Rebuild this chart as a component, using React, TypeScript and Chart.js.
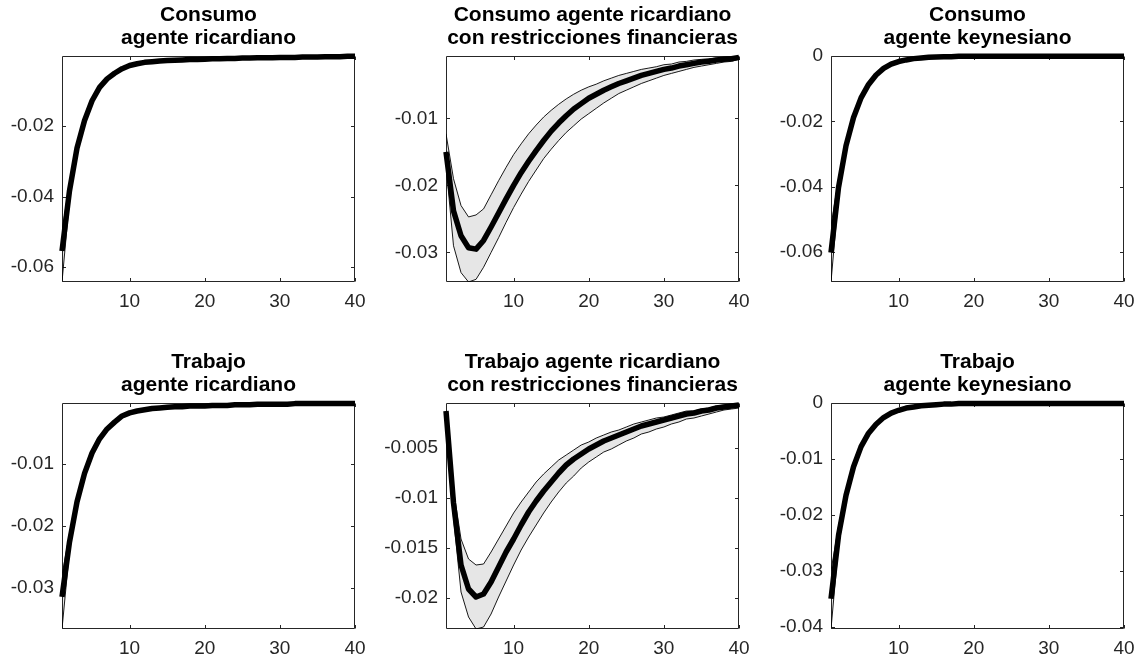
import React, { useEffect, useRef } from 'react';
import { Chart, registerables } from 'chart.js';

Chart.register(...registerables);

const FONT = "'Liberation Sans', Arial, Helvetica, sans-serif";

// ---------- data ----------
const periods = [1, 2, 3, 4, 5, 6, 7, 8, 9, 10, 11, 12, 13, 14, 15, 16, 17, 18, 19, 20,
  21, 22, 23, 24, 25, 26, 27, 28, 29, 30, 31, 32, 33, 34, 35, 36, 37, 38, 39, 40];
const xTicks = [10, 20, 30, 40];

// Consumo agente ricardiano
const consRicMean = [-0.0554, -0.0383, -0.0262, -0.0184, -0.0128, -0.0090, -0.0066, -0.0050, -0.0037, -0.0028,
  -0.0023, -0.0019, -0.0017, -0.0015, -0.0014, -0.0013, -0.0012, -0.0011, -0.0011, -0.0010,
  -0.0009, -0.0009, -0.0008, -0.0008, -0.0007, -0.0007, -0.0006, -0.0006, -0.0006, -0.0005,
  -0.0005, -0.0005, -0.0004, -0.0004, -0.0004, -0.0003, -0.0003, -0.0003, -0.0002, -0.0002];
const consRicUpper = [-0.0500, -0.0360, -0.0250, -0.0177, -0.0124, -0.0087, -0.0063, -0.0047, -0.0035, -0.0026,
  -0.0021, -0.0018, -0.0016, -0.0014, -0.0013, -0.0012, -0.0011, -0.0010, -0.0010, -0.0009,
  -0.0008, -0.0008, -0.0007, -0.0007, -0.0006, -0.0006, -0.0005, -0.0005, -0.0005, -0.0004,
  -0.0004, -0.0004, -0.0003, -0.0003, -0.0003, -0.0002, -0.0002, -0.0002, -0.0001, -0.0001];
const consRicLower = [-0.0642, -0.0410, -0.0276, -0.0192, -0.0133, -0.0094, -0.0069, -0.0053, -0.0039, -0.0030,
  -0.0025, -0.0020, -0.0018, -0.0016, -0.0015, -0.0014, -0.0013, -0.0012, -0.0012, -0.0011,
  -0.0010, -0.0010, -0.0009, -0.0009, -0.0008, -0.0008, -0.0007, -0.0007, -0.0007, -0.0006,
  -0.0006, -0.0006, -0.0005, -0.0005, -0.0005, -0.0004, -0.0004, -0.0004, -0.0003, -0.0003];

// Consumo agente ricardiano con restricciones financieras
const consRestMean = [-0.0150, -0.0238, -0.0275, -0.0293, -0.0295, -0.0282, -0.0262, -0.0241, -0.0220, -0.0200,
  -0.0181, -0.0164, -0.0148, -0.0133, -0.0119, -0.0107, -0.0096, -0.0086, -0.0078, -0.0070,
  -0.0064, -0.0058, -0.0053, -0.0048, -0.0044, -0.0040, -0.0036, -0.0033, -0.0030, -0.0027,
  -0.0025, -0.0022, -0.0020, -0.0018, -0.0016, -0.0015, -0.0013, -0.0012, -0.0011, -0.0009];
const consRestUpper = [-0.0123, -0.0190, -0.0230, -0.0247, -0.0244, -0.0235, -0.0214, -0.0193, -0.0173, -0.0154,
  -0.0138, -0.0123, -0.0110, -0.0098, -0.0088, -0.0079, -0.0071, -0.0064, -0.0058, -0.0053,
  -0.0049, -0.0044, -0.0040, -0.0036, -0.0033, -0.0030, -0.0027, -0.0025, -0.0023, -0.0020,
  -0.0019, -0.0016, -0.0015, -0.0013, -0.0012, -0.0011, -0.0010, -0.0009, -0.0008, -0.0007];
const consRestLower = [-0.0170, -0.0290, -0.0330, -0.0344, -0.0340, -0.0322, -0.0300, -0.0278, -0.0255, -0.0233,
  -0.0213, -0.0194, -0.0177, -0.0160, -0.0146, -0.0133, -0.0121, -0.0111, -0.0101, -0.0093,
  -0.0085, -0.0077, -0.0070, -0.0063, -0.0058, -0.0053, -0.0048, -0.0044, -0.0040, -0.0036,
  -0.0033, -0.0030, -0.0027, -0.0024, -0.0022, -0.0020, -0.0018, -0.0016, -0.0015, -0.0012];

// Consumo agente keynesiano
const consKeyMean = [-0.0601, -0.0402, -0.0274, -0.0188, -0.0128, -0.0087, -0.0058, -0.0038, -0.0025, -0.0017,
  -0.0012, -0.0008, -0.0006, -0.0004, -0.0003, -0.0002, -0.0002, -0.0001, -0.0001, -0.0001,
  -0.0001, -0.0001, -0.0001, -0.0001, -0.0001, -0.0001, -0.0001, -0.0001, -0.0001, -0.0001,
  -0.0001, -0.0001, -0.0001, -0.0001, -0.0001, -0.0001, -0.0001, -0.0001, -0.0001, -0.0001];
const consKeyUpper = [-0.0520, -0.0375, -0.0262, -0.0181, -0.0123, -0.0084, -0.0056, -0.0036, -0.0024, -0.0016,
  -0.0011, -0.0007, -0.0005, -0.0003, -0.0002, -0.0001, -0.0001, 0, 0, 0,
  0, 0, 0, 0, 0, 0, 0, 0, 0, 0,
  0, 0, 0, 0, 0, 0, 0, 0, 0, 0];
const consKeyLower = [-0.0691, -0.0430, -0.0287, -0.0195, -0.0133, -0.0091, -0.0061, -0.0040, -0.0027, -0.0018,
  -0.0013, -0.0009, -0.0007, -0.0005, -0.0004, -0.0003, -0.0003, -0.0002, -0.0002, -0.0002,
  -0.0002, -0.0002, -0.0002, -0.0002, -0.0002, -0.0002, -0.0002, -0.0002, -0.0002, -0.0002,
  -0.0002, -0.0002, -0.0002, -0.0002, -0.0002, -0.0002, -0.0002, -0.0002, -0.0002, -0.0002];

// Trabajo agente ricardiano
const trabRicMean = [-0.0315, -0.0226, -0.0161, -0.0115, -0.0082, -0.0059, -0.0043, -0.0032, -0.0022, -0.0017,
  -0.0014, -0.0012, -0.0010, -0.0009, -0.0008, -0.0007, -0.0007, -0.0006, -0.0006, -0.0006,
  -0.0005, -0.0005, -0.0005, -0.0004, -0.0004, -0.0004, -0.0003, -0.0003, -0.0003, -0.0003,
  -0.0003, -0.0002, -0.0002, -0.0002, -0.0002, -0.0002, -0.0002, -0.0002, -0.0002, -0.0002];
const trabRicUpper = [-0.0280, -0.0212, -0.0154, -0.0111, -0.0079, -0.0057, -0.0041, -0.0030, -0.0021, -0.0016,
  -0.0013, -0.0011, -0.0009, -0.0008, -0.0007, -0.0006, -0.0006, -0.0005, -0.0005, -0.0005,
  -0.0004, -0.0004, -0.0004, -0.0003, -0.0003, -0.0003, -0.0002, -0.0002, -0.0002, -0.0002,
  -0.0002, -0.0001, -0.0001, -0.0001, -0.0001, -0.0001, -0.0001, -0.0001, -0.0001, -0.0001];
const trabRicLower = [-0.0367, -0.0240, -0.0168, -0.0119, -0.0085, -0.0061, -0.0045, -0.0034, -0.0024, -0.0018,
  -0.0015, -0.0013, -0.0011, -0.0010, -0.0009, -0.0008, -0.0008, -0.0007, -0.0007, -0.0007,
  -0.0006, -0.0006, -0.0006, -0.0005, -0.0005, -0.0005, -0.0004, -0.0004, -0.0004, -0.0004,
  -0.0004, -0.0003, -0.0003, -0.0003, -0.0003, -0.0003, -0.0003, -0.0003, -0.0003, -0.0003];

// Trabajo agente ricardiano con restricciones financieras
const trabRestMean = [-0.0013, -0.0105, -0.0167, -0.0191, -0.0199, -0.0196, -0.0184, -0.0169, -0.0154, -0.0141,
  -0.0127, -0.0114, -0.0103, -0.0093, -0.0084, -0.0075, -0.0067, -0.0061, -0.0056, -0.0051,
  -0.0047, -0.0043, -0.0040, -0.0037, -0.0034, -0.0031, -0.0028, -0.0026, -0.0024, -0.0022,
  -0.0020, -0.0018, -0.0016, -0.0015, -0.0013, -0.0012, -0.0010, -0.0009, -0.0008, -0.0007];
const trabRestUpper = [-0.0013, -0.0092, -0.0141, -0.0161, -0.0167, -0.0166, -0.0154, -0.0141, -0.0128, -0.0115,
  -0.0104, -0.0094, -0.0084, -0.0076, -0.0069, -0.0062, -0.0057, -0.0052, -0.0047, -0.0044,
  -0.0040, -0.0037, -0.0034, -0.0032, -0.0029, -0.0026, -0.0024, -0.0022, -0.0020, -0.0019,
  -0.0017, -0.0015, -0.0013, -0.0013, -0.0011, -0.0010, -0.0008, -0.0007, -0.0006, -0.0005];
const trabRestLower = [-0.0013, -0.0120, -0.0194, -0.0219, -0.0231, -0.0229, -0.0216, -0.0199, -0.0183, -0.0167,
  -0.0152, -0.0139, -0.0127, -0.0115, -0.0104, -0.0094, -0.0085, -0.0078, -0.0070, -0.0064,
  -0.0059, -0.0054, -0.0051, -0.0047, -0.0043, -0.0040, -0.0036, -0.0034, -0.0031, -0.0029,
  -0.0026, -0.0024, -0.0021, -0.0020, -0.0018, -0.0016, -0.0014, -0.0012, -0.0011, -0.0010];

// Trabajo agente keynesiano
const trabKeyMean = [-0.0350, -0.0237, -0.0165, -0.0114, -0.0078, -0.0054, -0.0038, -0.0026, -0.0018, -0.0013,
  -0.0009, -0.0007, -0.0005, -0.0004, -0.0003, -0.0002, -0.0002, -0.0001, -0.0001, -0.0001,
  -0.0001, -0.0001, -0.0001, -0.0001, -0.0001, -0.0001, -0.0001, -0.0001, -0.0001, -0.0001,
  -0.0001, -0.0001, -0.0001, -0.0001, -0.0001, -0.0001, -0.0001, -0.0001, -0.0001, -0.0001];
const trabKeyUpper = [-0.0300, -0.0220, -0.0157, -0.0110, -0.0075, -0.0052, -0.0036, -0.0025, -0.0017, -0.0012,
  -0.0008, -0.0006, -0.0004, -0.0003, -0.0002, -0.0001, -0.0001, 0, 0, 0,
  0, 0, 0, 0, 0, 0, 0, 0, 0, 0,
  0, 0, 0, 0, 0, 0, 0, 0, 0, 0];
const trabKeyLower = [-0.0404, -0.0255, -0.0174, -0.0119, -0.0082, -0.0057, -0.0040, -0.0028, -0.0020, -0.0014,
  -0.0010, -0.0008, -0.0006, -0.0005, -0.0004, -0.0003, -0.0003, -0.0002, -0.0002, -0.0002,
  -0.0002, -0.0002, -0.0002, -0.0002, -0.0002, -0.0002, -0.0002, -0.0002, -0.0002, -0.0002,
  -0.0002, -0.0002, -0.0002, -0.0002, -0.0002, -0.0002, -0.0002, -0.0002, -0.0002, -0.0002];

// y tick values and labels
const yTicksConsRic = [-0.06, -0.04, -0.02];
const yLabelsConsRic = ['-0.06', '-0.04', '-0.02'];
const yTicksConsRest = [-0.03, -0.02, -0.01];
const yLabelsConsRest = ['-0.03', '-0.02', '-0.01'];
const yTicksConsKey = [-0.06, -0.04, -0.02, 0];
const yLabelsConsKey = ['-0.06', '-0.04', '-0.02', '0'];
const yTicksTrabRic = [-0.03, -0.02, -0.01];
const yLabelsTrabRic = ['-0.03', '-0.02', '-0.01'];
const yTicksTrabRest = [-0.02, -0.015, -0.01, -0.005];
const yLabelsTrabRest = ['-0.02', '-0.015', '-0.01', '-0.005'];
const yTicksTrabKey = [-0.04, -0.03, -0.02, -0.01, 0];
const yLabelsTrabKey = ['-0.04', '-0.03', '-0.02', '-0.01', '0'];

const titleConsRic = ['Consumo', 'agente ricardiano'];
const titleConsRest = ['Consumo agente ricardiano', 'con restricciones financieras'];
const titleConsKey = ['Consumo', 'agente keynesiano'];
const titleTrabRic = ['Trabajo', 'agente ricardiano'];
const titleTrabRest = ['Trabajo agente ricardiano', 'con restricciones financieras'];
const titleTrabKey = ['Trabajo', 'agente keynesiano'];

// ---------- layout ----------
const PLOT_W = 293;
const PLOT_H = 226;
const LEFT_W = 62;
const TOP_H = 56;
const BOTTOM_H = 31;
const RIGHT_PAD = 20;
const COL_LEFTS = [62, 446, 831];
const ROW_TOPS = [56, 403];

type PanelCfg = {
  title: string[];
  mean: number[];
  upper: number[];
  lower: number[];
  yTicks: number[];
  yLabels: string[];
  col: number;
  row: number;
};

const panels: PanelCfg[] = [
  { title: titleConsRic, mean: consRicMean, upper: consRicUpper, lower: consRicLower, yTicks: yTicksConsRic, yLabels: yLabelsConsRic, col: 0, row: 0 },
  { title: titleConsRest, mean: consRestMean, upper: consRestUpper, lower: consRestLower, yTicks: yTicksConsRest, yLabels: yLabelsConsRest, col: 1, row: 0 },
  { title: titleConsKey, mean: consKeyMean, upper: consKeyUpper, lower: consKeyLower, yTicks: yTicksConsKey, yLabels: yLabelsConsKey, col: 2, row: 0 },
  { title: titleTrabRic, mean: trabRicMean, upper: trabRicUpper, lower: trabRicLower, yTicks: yTicksTrabRic, yLabels: yLabelsTrabRic, col: 0, row: 1 },
  { title: titleTrabRest, mean: trabRestMean, upper: trabRestUpper, lower: trabRestLower, yTicks: yTicksTrabRest, yLabels: yLabelsTrabRest, col: 1, row: 1 },
  { title: titleTrabKey, mean: trabKeyMean, upper: trabKeyUpper, lower: trabKeyLower, yTicks: yTicksTrabKey, yLabels: yLabelsTrabKey, col: 2, row: 1 },
];

const AXIS_COLOR = '#262626';

const boxPlugin = {
  id: 'matlabBox',
  beforeDatasetsDraw(chart: any) {
    const { ctx, chartArea: a, scales } = chart;
    ctx.save();
    ctx.strokeStyle = AXIS_COLOR;
    ctx.lineWidth = 1;
    const l = Math.round(a.left) + 0.5;
    const r = Math.round(a.right) - 0.5;
    const t = Math.round(a.top) + 0.5;
    const b = Math.round(a.bottom) - 0.5;
    ctx.beginPath();
    ctx.rect(l, t, r - l, b - t);
    const tl = 3.5;
    for (const tk of scales.x.ticks) {
      const px = Math.round(scales.x.getPixelForValue(tk.value)) + 0.5;
      ctx.moveTo(px, b);
      ctx.lineTo(px, b - tl);
      ctx.moveTo(px, t);
      ctx.lineTo(px, t + tl);
    }
    for (const tk of scales.y.ticks) {
      const py = Math.round(scales.y.getPixelForValue(tk.value)) + 0.5;
      ctx.moveTo(l, py);
      ctx.lineTo(l + tl, py);
      ctx.moveTo(r, py);
      ctx.lineTo(r - tl, py);
    }
    ctx.stroke();
    ctx.restore();
  },
};

function Panel({ cfg }: { cfg: PanelCfg }) {
  const ref = useRef<HTMLCanvasElement>(null);
  const width = LEFT_W + PLOT_W + RIGHT_PAD;
  const height = TOP_H + PLOT_H + BOTTOM_H;
  const left = COL_LEFTS[cfg.col] - LEFT_W;
  const top = ROW_TOPS[cfg.row] - TOP_H;

  useEffect(() => {
    if (!ref.current) return;
    const toPts = (arr: number[]) => periods.map((x, i) => ({ x, y: arr[i] }));
    const yMin = Math.min(...cfg.lower);
    const yMax = Math.max(...cfg.upper);
    const chart = new Chart(ref.current, {
      type: 'line',
      data: {
        datasets: [
          {
            label: 'media',
            data: toPts(cfg.mean),
            borderColor: '#000000',
            borderWidth: 5.5,
            pointRadius: 0,
            fill: false,
            order: 0,
            clip: false,
            borderJoinStyle: 'round',
            tension: 0,
          } as any,
          {
            label: 'superior',
            data: toPts(cfg.upper),
            borderColor: '#000000',
            borderWidth: 0.9,
            backgroundColor: '#e6e6e6',
            pointRadius: 0,
            fill: '+1',
            order: 1,
            tension: 0,
          },
          {
            label: 'inferior',
            data: toPts(cfg.lower),
            borderColor: '#000000',
            borderWidth: 0.9,
            pointRadius: 0,
            fill: false,
            order: 2,
            tension: 0,
          },
        ],
      },
      options: {
        animation: false,
        responsive: false,
        events: [],
        layout: { padding: { left: 0, right: RIGHT_PAD, top: 0, bottom: 0 } },
        plugins: {
          legend: { display: false },
          tooltip: { enabled: false },
          filler: { drawTime: 'beforeDatasetsDraw' },
          title: {
            display: true,
            text: cfg.title,
            color: '#000000',
            fullSize: false,
            font: { family: FONT, size: 21, weight: 'bold', lineHeight: 1.12 },
            padding: { top: 3, bottom: TOP_H - 3 - 2 * 21 * 1.12 },
          },
        },
        scales: {
          x: {
            type: 'linear',
            min: 1,
            max: 40,
            grid: { display: false, drawTicks: false },
            border: { display: false },
            afterBuildTicks: (s: any) => {
              s.ticks = xTicks.map((v) => ({ value: v }));
            },
            afterFit: (s: any) => {
              s.height = BOTTOM_H;
            },
            ticks: {
              color: AXIS_COLOR,
              font: { family: FONT, size: 19 },
              padding: 8,
              maxRotation: 0,
              autoSkip: false,
              callback: (v: any) => String(v),
            },
          },
          y: {
            type: 'linear',
            min: yMin,
            max: yMax,
            grid: { display: false, drawTicks: false },
            border: { display: false },
            afterBuildTicks: (s: any) => {
              s.ticks = cfg.yTicks.map((v) => ({ value: v }));
            },
            afterFit: (s: any) => {
              s.width = LEFT_W;
            },
            ticks: {
              color: AXIS_COLOR,
              font: { family: FONT, size: 19 },
              padding: 8,
              autoSkip: false,
              callback: (_v: any, i: number) => cfg.yLabels[i],
            },
          },
        },
      },
      plugins: [boxPlugin],
    });
    return () => chart.destroy();
  }, [cfg]);

  return (
    <canvas
      ref={ref}
      width={width}
      height={height}
      style={{ position: 'absolute', left, top, width, height }}
    />
  );
}

export default function App() {
  return (
    <div
      style={{
        position: 'absolute',
        left: 0,
        top: 0,
        width: 1137,
        height: 660,
        overflow: 'hidden',
        background: '#ffffff',
      }}
    >
      {panels.map((p, i) => (
        <Panel key={i} cfg={p} />
      ))}
    </div>
  );
}
